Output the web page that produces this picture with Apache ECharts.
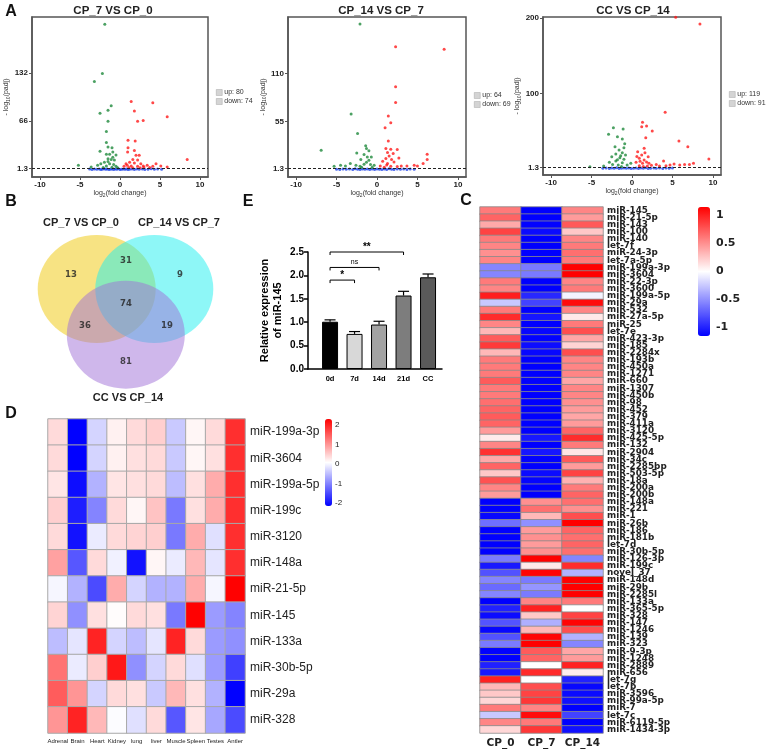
<!DOCTYPE html>
<html><head><meta charset="utf-8">
<script src="https://cdn.jsdelivr.net/npm/echarts@6/dist/echarts.min.js"></script>
<style>html,body{margin:0;padding:0;background:#fff}#c{width:767px;height:749px}</style>
</head><body><div id="c"></div>
<script>
const FONT = "Arial, 'Liberation Sans', sans-serif";
const DV = "'DejaVu Sans', sans-serif";

// ---------- Panel A: volcano plots ----------
const volTitles = ['CP_7 VS CP_0', 'CP_14 VS CP_7', 'CC VS CP_14'];
const volCounts = [[80, 74], [64, 69], [119, 91]];
const volYTicks = [[1.3, 66, 132], [1.3, 55, 110], [1.3, 100, 200]];
const volXTicks = [-10, -5, 0, 5, 10];
const padjCut = 1.3;

const v1Up = [[1.4,93],[4.1,91],[1.8,80],[5.9,72],[2.2,66],[2.9,67],[1.0,40],[1.9,39],[1.0,30],[1.8,26],[0.95,24],[2.0,19.5],[2.4,19.5],[8.4,14],[1.6,14],[2.2,13],[1.2,10],[1.8,9],[2.6,8],[0.75,8],[4.5,8],[3.4,6],[1.4,5],[5.1,5],[2.2,4.5],[4.1,4.5],[0.5,4.5],[3.0,3.5],[1.6,2.5],[5.9,3.5],[0.9,6],[2.9,5],[1.1,3],[3.7,2.8],[2.5,2.5]];
const v1Down = [[-1.9,198],[-2.2,131],[-3.2,120],[-1.1,87],[-1.5,81],[-2.5,77],[-1.5,66],[-1.7,52],[-1.7,37],[-1.5,31],[-2.5,25],[-1.0,30],[-0.9,24],[-1.7,21],[-1.3,21],[-0.5,20],[-1.5,15],[-1.1,14],[-0.7,13],[-1.95,10],[-2.4,8],[-1.3,8],[-0.8,7],[-2.8,6],[-1.7,5],[-5.2,6],[-3.6,3.5],[-0.5,4.5],[-2.1,3],[-1.0,3.2],[-0.3,2.5],[-1.5,11],[-0.9,17]];
const v1NS = [[-3.8,0.8],[-3.5,0.3],[-3.2,1.0],[-2.9,0.5],[-2.6,0.9],[-2.4,0.2],[-2.2,0.7],[-2.0,1.1],[-1.8,0.4],[-1.6,0.9],[-1.4,0.1],[-1.2,0.6],[-1.0,1.0],[-0.8,0.3],[-0.6,0.8],[-0.4,0.5],[-0.2,1.1],[0.0,0.2],[0.2,0.7],[0.4,1.0],[0.6,0.4],[0.8,0.9],[1.0,0.2],[1.2,0.6],[1.5,1.0],[1.8,0.3],[2.1,0.8],[2.4,0.5],[2.8,1.0],[3.1,0.3],[3.5,0.7],[3.9,1.1],[4.3,0.4],[4.7,0.9],[5.2,0.6]];

const v2Up = [[2.3,141],[8.3,138],[2.3,95],[2.3,77],[1.4,61.6],[1.7,53.9],[1.0,48],[1.4,32.8],[1.1,24.3],[1.7,23.6],[2.5,23.2],[1.3,19.7],[2.0,18.6],[6.2,17.8],[1.5,15.9],[2.7,13.6],[1.1,12.8],[1.8,11.7],[6.2,11.7],[0.7,9.7],[1.3,7.1],[2.1,9],[5.7,7.1],[4.6,5.1],[5.0,4.4],[3.0,4.4],[3.7,4.4],[0.4,4.4],[1.7,4],[2.5,3.6],[0.9,3],[1.2,5.5]];
const v2Down = [[-2.1,167],[-3.2,64],[-2.4,41.6],[-6.9,22.4],[-2.5,19.3],[-1.4,27.4],[-1.3,24.3],[-1.0,21.7],[-1.6,17.4],[-1.2,14.7],[-0.7,14.7],[-2.0,11.7],[-1.0,10.9],[-3.3,7.1],[-4.5,5.1],[-2.6,5.1],[-1.6,6.3],[-0.8,5.9],[-5.3,4],[-3.9,4.4],[-2.1,4],[-0.35,5.1],[-1.3,8.5],[-0.6,3],[-1.9,3]];
const v2NS = [[-5.0,0.7],[-4.6,0.2],[-4.2,1.0],[-3.8,0.5],[-3.4,0.9],[-3.0,0.3],[-2.7,1.1],[-2.4,0.6],[-2.1,0.2],[-1.8,0.9],[-1.5,0.5],[-1.2,1.0],[-0.9,0.3],[-0.6,0.8],[-0.3,0.4],[0.0,1.0],[0.3,0.6],[0.6,0.2],[0.9,0.9],[1.2,0.4],[1.5,1.1],[1.8,0.7],[2.1,0.2],[2.5,0.9],[2.9,0.5],[3.3,1.0],[3.7,0.3],[4.1,0.8],[4.6,0.5]];

const v3Up = [[5.4,201],[8.4,192],[4.1,74.8],[1.3,61.5],[1.2,55.7],[1.8,56.6],[2.5,50],[1.7,41.1],[5.8,36.7],[6.9,29.2],[1.5,27],[0.7,22.5],[1.6,21.2],[1.2,18.1],[2.0,15.9],[0.9,13.7],[1.5,11.5],[9.5,12.8],[3.9,10.2],[0.5,8.4],[1.3,7.1],[2.1,7.1],[3.0,5.7],[7.6,7.1],[6.5,5.7],[5.2,6.2],[5.9,4.8],[4.2,4],[0.9,4],[1.9,3.5],[3.4,3.5],[7.1,5.7],[4.7,4.8],[1.0,10],[1.8,9],[0.6,16],[2.4,4.5],[1.4,2.8]];
const v3Down = [[-2.3,54.4],[-1.1,52.6],[-2.9,45.6],[-1.8,42.5],[-1.2,39.4],[-2.1,29.2],[-1.0,27.9],[-1.6,24.8],[-1.2,21.2],[-2.0,19.5],[-0.8,18.1],[-2.5,15.9],[-1.5,14.6],[-1.0,12.4],[-2.0,10.2],[-2.8,8.4],[-1.2,7.9],[-2.4,5.7],[-1.7,4.8],[-0.6,4.8],[-5.2,2.6],[-3.5,3.5],[-0.15,7.1],[-1.4,17],[-0.9,33],[-1.8,12],[-1.3,3]];
const v3NS = [[-3.6,0.6],[-3.2,1.0],[-2.8,0.3],[-2.5,0.8],[-2.2,0.4],[-1.9,1.1],[-1.6,0.2],[-1.3,0.7],[-1.0,1.0],[-0.7,0.4],[-0.4,0.9],[-0.1,0.2],[0.2,0.6],[0.5,1.0],[0.8,0.3],[1.1,0.8],[1.4,0.5],[1.7,1.1],[2.0,0.2],[2.3,0.7],[2.7,1.0],[3.0,0.4],[3.4,0.8],[3.8,0.2],[4.2,0.9],[4.6,0.5],[5.0,1.0]];

// ---------- Panel B: Venn ----------
const vennSets = ['CP_7 VS CP_0', 'CP_14 VS CP_7', 'CC VS CP_14'];
const vennCounts = [13, 31, 9, 74, 36, 19, 81];

// ---------- Panel E: bar chart ----------
const eCats = ['0d', '7d', '14d', '21d', 'CC'];
const eMeans = [1.01, 0.75, 0.95, 1.57, 1.96];
const eErrs = [0.04, 0.05, 0.07, 0.09, 0.07];
const sigFrom = [0, 0, 0];
const sigTo = [3, 2, 1];
const sigLevel = [2.5, 2.17, 1.9];
const sigText = ['**', 'ns', '*'];

// ---------- Panel C: heatmap ----------
const cCols = ['CP_0', 'CP_7', 'CP_14'];
const cRows = ['miR-145','miR-21-5p','miR-143','miR-100','miR-140','let-7f','miR-24-3p','let-7a-5p','miR-199a-3p','miR-3604','miR-22-3p','miR-3600','miR-199a-5p','miR-29a','miR-532','miR-27a-5p','miR-25','let-7e','miR-423-3p','miR-185','miR-2284x','miR-193b','miR-450a','miR-1271','miR-660','miR-1307','miR-450b','miR-98','miR-452','miR-379','miR-411a','miR-3120','miR-425-5p','miR-132','miR-2904','miR-34c','miR-2285bp','miR-503-5p','miR-18a','miR-200a','miR-200b','miR-148a','miR-221','miR-1','miR-26b','miR-186','miR-181b','let-7d','miR-30b-5p','miR-126-3p','miR-199c','novel_37','miR-148d','miR-29b','miR-2285l','miR-133a','miR-365-5p','miR-328','miR-147','miR-1246','miR-139','miR-323','miR-9-3p','miR-1248','miR-2889','miR-656','let-7g','let-7b','miR-3596','miR-99a-5p','miR-7','let-7c','miR-6119-5p','miR-1434-3p'];
const cCP0 = [0.60,0.70,0.39,0.85,0.60,0.55,0.50,0.55,-0.55,-0.55,0.60,0.55,1.02,-0.25,0.60,0.95,0.55,0.32,0.74,0.89,0.32,0.60,0.60,0.60,0.74,0.60,0.60,0.65,0.70,0.74,0.70,0.45,0.09,0.55,0.93,0.39,0.70,0.25,0.78,0.55,0.45,
  -1.15,-1.15,-1.12,-0.65,-1.15,-1.15,-1.15,-1.15,-0.60,-1.04,-0.78,-0.55,-0.67,-0.55,-1.15,-1.00,-1.10,-0.77,-1.12,-0.78,-0.60,-1.14,-1.15,-1.00,-1.04,
  1.00,0.32,0.25,0.18,0.60,-0.25,0.55,0.18];
const cCP7 = [-1.15,-1.15,-1.14,-1.10,-1.15,-1.15,-1.15,-1.15,-0.60,-0.60,-1.15,-1.15,-0.97,-0.85,-1.15,-1.05,-1.15,-1.12,-1.14,-1.09,-1.12,-1.15,-1.15,-1.15,-1.14,-1.15,-1.15,-1.15,-1.15,-1.14,-1.15,-1.15,-1.04,-1.15,-1.05,-1.14,-1.15,-1.10,-1.13,-1.15,-1.15,
  0.50,0.65,0.32,-0.50,0.45,0.50,0.45,0.50,1.15,0.10,1.13,-0.60,-0.48,-0.60,0.55,1.00,0.25,-0.36,0.32,1.13,1.15,0.74,0.70,0.00,0.96,
  0.00,0.80,0.85,0.90,0.55,1.10,0.60,0.90];
const cCP14 = [0.55,0.45,0.75,0.25,0.55,0.60,0.65,0.60,1.15,1.15,0.55,0.60,-0.05,1.10,0.55,0.10,0.60,0.80,0.40,0.20,0.80,0.55,0.55,0.55,0.40,0.55,0.55,0.50,0.45,0.40,0.45,0.70,0.95,0.60,0.12,0.75,0.45,0.85,0.35,0.60,0.70,
  0.65,0.50,0.80,1.15,0.70,0.65,0.70,0.65,-0.55,0.95,-0.35,1.15,1.15,1.15,0.60,0.00,0.85,1.13,0.80,-0.35,-0.55,0.40,0.45,1.00,0.08,
  -1.00,-1.12,-1.10,-1.08,-1.15,-0.85,-1.15,-1.08];
const cTicks = [1, 0.5, 0, -0.5, -1];

// ---------- Panel D: heatmap ----------
const dCols = ['Adrenal','Brain','Heart','Kidney','lung','liver','Muscle','Spleen','Testes','Antler'];
const dRows = ['miR-199a-3p','miR-3604','miR-199a-5p','miR-199c','miR-3120','miR-148a','miR-21-5p','miR-145','miR-133a','miR-30b-5p','miR-29a','miR-328'];
const dValues = [
  [0.4,-2.15,-0.3,0.2,0.4,0.5,-0.4,0.15,0.4,1.9],
  [0.4,-2.15,-0.3,0.2,0.35,0.4,-0.4,0.15,0.35,1.9],
  [0.3,-2.05,-0.6,0.3,0.35,0.4,-0.5,0.35,0.8,1.9],
  [0.5,-1.9,-1.0,0.4,0.15,0.6,-1.1,0.35,0.8,1.9],
  [0.4,-2.0,-0.1,0.4,0.45,0.5,-1.1,0.8,-0.2,1.9],
  [0.9,-1.4,0.4,-0.05,-2.0,0.15,-0.1,0.7,-0.15,1.9],
  [0.0,-0.6,-1.5,0.8,-0.3,-0.6,-0.6,0.8,0.0,2.3],
  [0.45,-0.9,0.35,0.1,0.4,0.35,-1.1,2.3,-0.8,-1.0],
  [-0.5,-0.15,2.0,-0.3,-0.5,-0.15,2.0,0.4,-0.8,-0.9],
  [1.3,-0.1,0.5,2.1,-0.9,-0.3,0.4,-0.2,-0.8,-1.6],
  [1.5,1.0,-0.3,0.4,0.35,-0.4,0.7,0.35,-0.6,-2.15],
  [1.0,2.0,0.7,0.05,-0.2,0.4,-1.4,0.3,-0.7,-1.5]
];
const dTicks = [2, 1, 0, -1, -2];

// ================= build =================
const chart = echarts.init(document.getElementById('c'), null, {renderer: 'canvas', width: 767, height: 749});

const volGrids = [
  {left: 32, top: 17, width: 176, height: 160},
  {left: 288, top: 17, width: 178, height: 160},
  {left: 543, top: 17, width: 178, height: 158}
];
const volYRange = [[-10, 208], [-8.3, 175], [-8.4, 201.3]];
const volLegendPos = [[216, 89], [474, 92], [729, 91]];
const volTitleX = [113, 381, 633];
const volNameGap = [15, 13, 14];

const grids = [], xAxes = [], yAxes = [], series = [], legends = [], graphics = [];

const axisTxt = {fontFamily: FONT, fontSize: 8, fontWeight: 'bold', color: '#222'};
const frameLine = {show: true, onZero: false, lineStyle: {color: '#555', width: 1.5}};

volGrids.forEach((g, i) => {
  grids.push(Object.assign({show: true, borderColor: '#555', borderWidth: 1.5, backgroundColor: 'transparent'}, g));
  xAxes.push({
    gridIndex: i, type: 'value', min: -11, max: 11, position: 'bottom',
    axisLine: frameLine, splitLine: {show: false},
    axisTick: {show: true, customValues: volXTicks, length: 3, lineStyle: {color: '#555'}},
    axisLabel: Object.assign({customValues: volXTicks, margin: 4}, axisTxt),
    name: 'log{s|2}(fold change)', nameLocation: 'middle', nameGap: 11,
    nameTextStyle: {fontFamily: FONT, fontSize: 7, color: '#333', rich: {s: {fontSize: 5, color: '#333', padding: [4, 0, 0, 0]}}}
  });
  yAxes.push({
    gridIndex: i, type: 'value', min: volYRange[i][0], max: volYRange[i][1], position: 'left',
    axisLine: frameLine, splitLine: {show: false},
    axisTick: {show: true, customValues: volYTicks[i], length: 3, lineStyle: {color: '#555'}},
    axisLabel: Object.assign({customValues: volYTicks[i], margin: 4}, axisTxt),
    name: '- log{s|10}(padj)', nameLocation: 'middle', nameGap: volNameGap[i], nameRotate: 90,
    nameTextStyle: {fontFamily: FONT, fontSize: 7, color: '#333', rich: {s: {fontSize: 5, color: '#333', padding: [4, 0, 0, 0]}}}
  });
  const sets = [[v1NS, v1Down, v1Up], [v2NS, v2Down, v2Up], [v3NS, v3Down, v3Up]][i];
  series.push({
    type: 'scatter', name: 'NS', xAxisIndex: i, yAxisIndex: i, data: sets[0], symbolSize: 3,
    itemStyle: {color: '#1f45e8'}, silent: true, z: 2,
    markLine: {silent: true, symbol: 'none', label: {show: false},
      lineStyle: {color: '#222', type: [3, 2], width: 1}, data: [{yAxis: padjCut}]}
  });
  series.push({type: 'scatter', name: 'down', xAxisIndex: i, yAxisIndex: i, data: sets[1], symbolSize: 3, itemStyle: {color: '#1f8a3c'}, silent: true, z: 3});
  series.push({type: 'scatter', name: 'up', xAxisIndex: i, yAxisIndex: i, data: sets[2], symbolSize: 3, itemStyle: {color: '#ff1a1a'}, silent: true, z: 3});
  legends.push({
    data: ['up', 'down'], left: volLegendPos[i][0], top: volLegendPos[i][1], orient: 'vertical',
    itemWidth: 6, itemHeight: 6, itemGap: 2, icon: 'rect', padding: 0, selectedMode: false,
    itemStyle: {color: '#c9c9c9', borderColor: '#999', borderWidth: 0.5},
    textStyle: {fontFamily: FONT, fontSize: 7, color: '#333', padding: [0, 0, 0, -3]},
    formatter: (n) => n === 'up' ? 'up: ' + volCounts[i][0] : 'down: ' + volCounts[i][1]
  });
  graphics.push({type: 'text', x: volTitleX[i], y: 11, style: {text: volTitles[i], textAlign: 'center', textVerticalAlign: 'middle', font: 'bold 11.5px ' + FONT, fill: '#222'}});
});

// grid 3: Venn (hidden pixel-like space)
grids.push({left: 0, top: 200, width: 255, height: 200});
xAxes.push({gridIndex: 3, type: 'value', min: 0, max: 255, show: false});
yAxes.push({gridIndex: 3, type: 'value', min: 200, max: 400, inverse: true, show: false});
const vennCircleLayout = [[96.7, 289], [154.3, 289], [125.8, 334.7]];
const vennColors = ['rgba(240,200,8,0.5)', 'rgba(30,240,240,0.5)', 'rgba(160,112,216,0.5)'];
const vennLabelLayout = [[71, 275], [126, 261], [180, 275], [126, 304], [85, 326], [167, 326], [126, 362]];
const vennNameLayout = [[81, 223], [179, 223], [128, 398]];
series.push({
  type: 'scatter', xAxisIndex: 3, yAxisIndex: 3, silent: true, symbol: 'circle', symbolSize: [118, 108],
  data: vennCircleLayout.map((p) => p),
  itemStyle: {color: (p) => vennColors[p.dataIndex], opacity: 1}, z: 1
});
series.push({
  type: 'scatter', xAxisIndex: 3, yAxisIndex: 3, silent: true, symbolSize: 0,
  data: vennCounts.map((c, k) => [vennLabelLayout[k][0], vennLabelLayout[k][1], c]),
  label: {show: true, position: 'inside', formatter: (p) => String(p.value[2]), fontFamily: DV, fontWeight: 'bold', fontSize: 8.5, color: '#222'},
  z: 5
});
vennSets.forEach((s, k) => {
  graphics.push({type: 'text', x: vennNameLayout[k][0], y: vennNameLayout[k][1], style: {text: s, textAlign: 'center', textVerticalAlign: 'middle', font: 'bold 11px ' + FONT, fill: '#222'}});
});

// grid 4: bar chart E
grids.push({left: 308, top: 252, width: 134, height: 117});
xAxes.push({
  gridIndex: 4, type: 'value', min: -0.9, max: 4.57,
  axisLine: {show: true, onZero: false, lineStyle: {color: '#000', width: 1.5}}, axisTick: {show: false}, splitLine: {show: false},
  axisLabel: {customValues: [0, 1, 2, 3, 4], formatter: (v) => eCats[v], fontFamily: FONT, fontSize: 7.5, fontWeight: 'bold', color: '#000', margin: 6}
});
yAxes.push({
  gridIndex: 4, type: 'value', min: 0, max: 2.5, interval: 0.5,
  axisLine: {show: true, onZero: false, lineStyle: {color: '#000', width: 1.5}},
  axisTick: {show: true, length: 4, lineStyle: {color: '#000', width: 1.5}}, splitLine: {show: false},
  axisLabel: {formatter: (v) => v.toFixed(1), fontFamily: FONT, fontSize: 10, fontWeight: 'bold', color: '#000', margin: 4},
  name: 'Relative expression\nof miR-145', nameLocation: 'middle', nameRotate: 90, nameGap: 24,
  nameTextStyle: {fontFamily: FONT, fontSize: 11, fontWeight: 'bold', color: '#000', lineHeight: 13}
});
const barColors = ['#000000', '#d8d8d8', '#a3a3a3', '#7d7d7d', '#5a5a5a'];
series.push({
  type: 'bar', xAxisIndex: 4, yAxisIndex: 4, silent: true, barWidth: 16,
  data: eMeans.map((v, k) => [k, v]),
  itemStyle: {color: (p) => barColors[p.dataIndex], borderColor: '#000', borderWidth: 1}, z: 2
});
series.push({
  type: 'custom', xAxisIndex: 4, yAxisIndex: 4, silent: true, clip: false, z: 3,
  encode: {x: 0, y: [1, 2]},
  data: eMeans.map((v, k) => [k, v, v + eErrs[k]]),
  renderItem: (params, api) => {
    const b = api.coord([api.value(0), api.value(1)]);
    const t = api.coord([api.value(0), api.value(2)]);
    return {type: 'group', children: [
      {type: 'line', shape: {x1: b[0], y1: b[1], x2: t[0], y2: t[1]}, style: {stroke: '#000', lineWidth: 1.2}},
      {type: 'line', shape: {x1: t[0] - 5.5, y1: t[1], x2: t[0] + 5.5, y2: t[1]}, style: {stroke: '#000', lineWidth: 1.2}}
    ]};
  }
});
series.push({
  type: 'custom', xAxisIndex: 4, yAxisIndex: 4, silent: true, clip: false, z: 3,
  encode: {x: [0, 1], y: 2},
  data: sigFrom.map((f, k) => [f, sigTo[k], sigLevel[k]]),
  renderItem: (params, api) => {
    const p1 = api.coord([api.value(0), api.value(2)]);
    const p2 = api.coord([api.value(1), api.value(2)]);
    const txt = sigText[params.dataIndex];
    const isNs = txt === 'ns';
    return {type: 'group', children: [
      {type: 'polyline', shape: {points: [[p1[0], p1[1] + 3], [p1[0], p1[1]], [p2[0], p2[1]], [p2[0], p2[1] + 3]]}, style: {stroke: '#000', lineWidth: 1, fill: null}},
      {type: 'text', x: (p1[0] + p2[0]) / 2, y: p1[1] - (isNs ? 2 : 0), style: {text: txt, textAlign: 'center', textVerticalAlign: 'bottom', font: (isNs ? '7px ' : 'bold 10px ') + FONT, fill: '#000'}}
    ]};
  }
});

// grid 5: heatmap C
grids.push({left: 480, top: 207, width: 123, height: 526});
xAxes.push({
  gridIndex: 5, type: 'category', data: cCols, position: 'bottom',
  axisLine: {show: false}, axisTick: {show: false}, splitLine: {show: false},
  axisLabel: {interval: 0, fontFamily: DV, fontSize: 10.5, fontWeight: 'bold', color: '#222', margin: 5}
});
yAxes.push({
  gridIndex: 5, type: 'category', data: cRows, inverse: true, position: 'right',
  axisLine: {show: false}, axisTick: {show: false}, splitLine: {show: false},
  axisLabel: {interval: 0, fontFamily: DV, fontSize: 8.8, fontWeight: 'bold', color: '#222', margin: 4}
});
const heatC = [];
cRows.forEach((r, k) => { heatC.push([0, k, cCP0[k]], [1, k, cCP7[k]], [2, k, cCP14[k]]); });
const heatCIndex = series.length;
series.push({
  type: 'heatmap', xAxisIndex: 5, yAxisIndex: 5, data: heatC, silent: true,
  itemStyle: {borderColor: '#8a8a8a', borderWidth: 0.8}
});

// grid 6: heatmap D
grids.push({left: 48, top: 419, width: 197, height: 314});
xAxes.push({
  gridIndex: 6, type: 'category', data: dCols, position: 'bottom',
  axisLine: {show: false}, axisTick: {show: false}, splitLine: {show: false},
  axisLabel: {interval: 0, fontFamily: FONT, fontSize: 6, color: '#222', margin: 5}
});
yAxes.push({
  gridIndex: 6, type: 'category', data: dRows, inverse: true, position: 'right',
  axisLine: {show: false}, axisTick: {show: false}, splitLine: {show: false},
  axisLabel: {interval: 0, fontFamily: FONT, fontSize: 12, color: '#222', margin: 5}
});
const heatD = [];
dValues.forEach((row, r) => row.forEach((v, c) => heatD.push([c, r, v])));
const heatDIndex = series.length;
series.push({
  type: 'heatmap', xAxisIndex: 6, yAxisIndex: 6, data: heatD, silent: true,
  itemStyle: {borderColor: '#a8a8a8', borderWidth: 1}
});

// grid 7: colorbar C labels
grids.push({left: 698, top: 207, width: 12, height: 129});
xAxes.push({gridIndex: 7, type: 'value', min: 0, max: 1, show: false});
yAxes.push({
  gridIndex: 7, type: 'value', min: -1.15, max: 1.15, position: 'right',
  axisLine: {show: false, onZero: false}, axisTick: {show: false}, splitLine: {show: false},
  axisLabel: {customValues: cTicks, formatter: (v) => String(v), fontFamily: DV, fontSize: 11, fontWeight: 'bold', color: '#222', margin: 6}
});
// grid 8: colorbar D labels
grids.push({left: 325, top: 419, width: 7, height: 87});
xAxes.push({gridIndex: 8, type: 'value', min: 0, max: 1, show: false});
yAxes.push({
  gridIndex: 8, type: 'value', min: -2.16, max: 2.31, position: 'right',
  axisLine: {show: false, onZero: false}, axisTick: {show: false}, splitLine: {show: false},
  axisLabel: {customValues: dTicks, formatter: (v) => String(v), fontFamily: FONT, fontSize: 8, color: '#222', margin: 3}
});

// panel letters
[['A', 11, 12], ['B', 11, 202], ['E', 248, 202], ['C', 466, 201], ['D', 11, 414]].forEach(([t, x, y]) => {
  graphics.push({type: 'text', x: x, y: y, style: {text: t, textAlign: 'center', textVerticalAlign: 'middle', font: 'bold 16px ' + FONT, fill: '#111'}});
});

chart.setOption({
  backgroundColor: '#fff',
  animation: false,
  tooltip: {show: false},
  grid: grids,
  xAxis: xAxes,
  yAxis: yAxes,
  legend: legends,
  visualMap: [
    {type: 'continuous', seriesIndex: heatCIndex, dimension: 2, min: -1.15, max: 1.15, calculable: false, hoverLink: false,
      inRange: {color: ['#0000ff', '#ffffff', '#ff0000']}, left: 698, top: 207, itemWidth: 12, itemHeight: 129, padding: 0, orient: 'vertical'},
    {type: 'continuous', seriesIndex: heatDIndex, dimension: 2, min: -2.16, max: 2.31, calculable: false, hoverLink: false,
      inRange: {color: ['#0000ff', '#ffffff', '#ff0000']}, left: 325, top: 419, itemWidth: 7, itemHeight: 87, padding: 0, orient: 'vertical'}
  ],
  graphic: graphics,
  series: series
});
</script>
</body></html>
